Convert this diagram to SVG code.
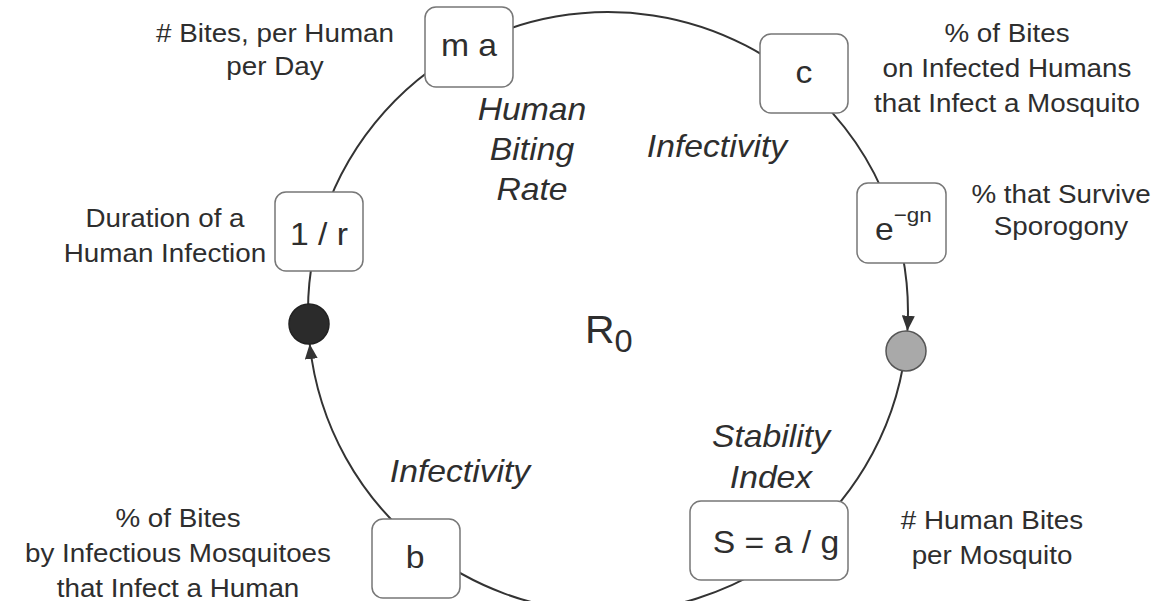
<svg xmlns="http://www.w3.org/2000/svg" width="1176" height="601" viewBox="0 0 1176 601">
<style>
text { font-family: "Liberation Sans", Arial, Helvetica, sans-serif; fill: #2e2e2e; }
.lbl { font-size: 26px; text-anchor: middle; }
.btx { font-size: 31.5px; text-anchor: middle; }
.it { font-size: 31.5px; font-style: italic; text-anchor: middle; }
.box { fill: #fff; stroke: #777; stroke-width: 1.5; }
.arc { fill: none; stroke: #333; stroke-width: 2; }
</style>
<defs>
<marker id="ah" markerUnits="userSpaceOnUse" markerWidth="16" markerHeight="13" refX="15" refY="6.5" orient="auto">
<path d="M0,0 L15,6.5 L0,13 z" fill="#333"/>
</marker>
</defs>
<rect width="1176" height="601" fill="#fff"/>
<g id="connectors">
<path class="arc" d="M468.5,46.4 A300,300 0 0 1 820.1,99.9"/>
<path class="arc" d="M820.1,99.9 A300,300 0 0 1 895,224.8"/>
<path class="arc" d="M895,224.8 A300,300 0 0 1 907.4,330.7" marker-end="url(#ah)"/>
<path class="arc" d="M905.5,350.6 A300,300 0 0 1 780.9,557.1"/>
<path class="arc" d="M780.9,557.1 A300,300 0 0 1 423.3,548.4"/>
<path class="arc" d="M423.3,548.4 A300,300 0 0 1 309.7,344.0" marker-end="url(#ah)"/>
<path class="arc" d="M308.2,324 A300,300 0 0 1 319.2,230.8"/>
<path class="arc" d="M319.2,230.8 A300,300 0 0 1 468.5,46.4"/>
</g>
<g id="node-ma">
<rect class="box" x="425" y="7" width="88" height="80" rx="11"/>
<text class="btx" transform="translate(469 0) scale(1.07 1)" x="0" y="56">m a</text>
<text class="lbl" transform="translate(275 0) scale(1.07 1)"><tspan x="0" y="42"># Bites, per Human</tspan><tspan x="0" y="75">per Day</tspan></text>
</g>
<g id="node-c">
<rect class="box" x="760" y="34" width="88" height="79" rx="11"/>
<text class="btx" transform="translate(804 0) scale(1.07 1)" x="0" y="83">c</text>
<text class="lbl" transform="translate(1007 0) scale(1.07 1)"><tspan x="0" y="42">% of Bites</tspan><tspan x="0" y="77">on Infected Humans</tspan><tspan x="0" y="112">that Infect a Mosquito</tspan></text>
</g>
<g id="node-e">
<rect class="box" x="857" y="183" width="89" height="80" rx="11"/>
<text transform="translate(875 0) scale(1.07 1)" style="font-size:31.5px"><tspan x="0" y="240">e</tspan><tspan y="222" style="font-size:21px">−gn</tspan></text>
<text class="lbl" transform="translate(1061 0) scale(1.07 1)"><tspan x="0" y="203">% that Survive</tspan><tspan x="0" y="235">Sporogony</tspan></text>
</g>
<g id="node-grey">
<circle cx="906" cy="351" r="20" fill="#a9a9a9" stroke="#555" stroke-width="1.5"/>
</g>
<g id="node-S">
<rect class="box" x="690" y="501" width="158" height="79" rx="11"/>
<text class="btx" transform="translate(776 0) scale(1.07 1)" x="0" y="553">S = a / g</text>
<text class="lbl" transform="translate(992 0) scale(1.07 1)"><tspan x="0" y="529"># Human Bites</tspan><tspan x="0" y="564">per Mosquito</tspan></text>
</g>
<g id="node-b">
<rect class="box" x="372" y="519" width="88" height="79" rx="11"/>
<text class="btx" transform="translate(415 0) scale(1.07 1)" x="0" y="568">b</text>
<text class="lbl" transform="translate(178 0) scale(1.07 1)"><tspan x="0" y="527">% of Bites</tspan><tspan x="0" y="562">by Infectious Mosquitoes</tspan><tspan x="0" y="597">that Infect a Human</tspan></text>
</g>
<g id="node-black">
<circle cx="309" cy="324" r="20" fill="#2b2b2b" stroke="#222" stroke-width="1.5"/>
</g>
<g id="node-r">
<rect class="box" x="275" y="192" width="88" height="79" rx="11"/>
<text class="btx" transform="translate(319 0) scale(1.07 1)" x="0" y="245">1 / r</text>
<text class="lbl" transform="translate(165 0) scale(1.07 1)"><tspan x="0" y="227">Duration of a</tspan><tspan x="0" y="262">Human Infection</tspan></text>
</g>
<g id="process-labels">
<text class="it" transform="translate(532 0) scale(1.07 1)"><tspan x="0" y="120">Human</tspan><tspan x="0" y="160">Biting</tspan><tspan x="0" y="200">Rate</tspan></text>
<text class="it" transform="translate(717 0) scale(1.07 1)" x="0" y="157">Infectivity</text>
<text class="it" transform="translate(771 0) scale(1.07 1)"><tspan x="0" y="447">Stability</tspan><tspan x="0" y="488">Index</tspan></text>
<text class="it" transform="translate(460 0) scale(1.07 1)" x="0" y="482">Infectivity</text>
</g>
<g id="center-R0">
<text transform="translate(585 0) scale(1.05 1)" style="font-size:39px"><tspan x="0" y="343">R</tspan><tspan y="352" style="font-size:31px">0</tspan></text>
</g>
</svg>
